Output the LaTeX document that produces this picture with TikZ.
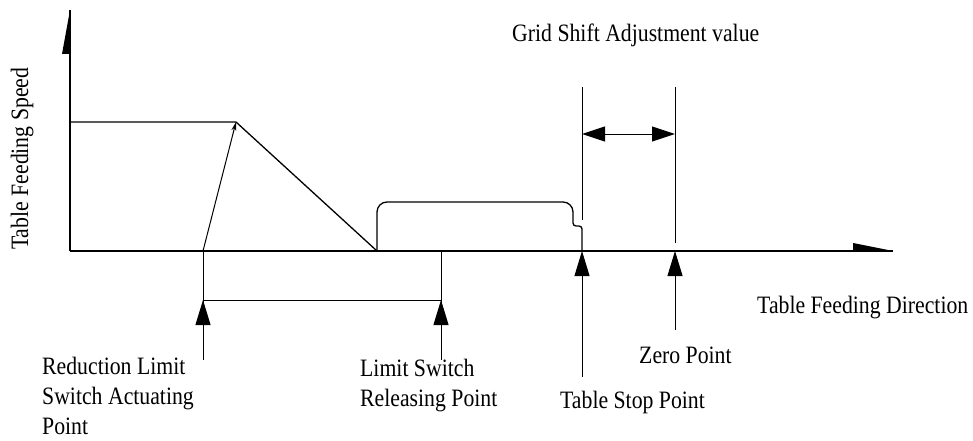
\documentclass[tikz,border=0pt]{standalone}
\usepackage{fontspec}
\setmainfont{Liberation Serif}[FakeStretch=0.87]
\usetikzlibrary{arrows.meta}
\tikzset{
  plot-line/.style={line width=1.3pt, line join=miter},
  mark-line/.style={line width=1pt},
  big-tip/.style={-{Triangle[length=25pt,width=15pt]}},
  gap-tip/.style={{Triangle[length=23pt,width=15pt]}-{Triangle[length=23pt,width=15pt]}},
  lbl/.style={font=\fontsize{25}{30}\selectfont, inner sep=0pt, align=left}
}

\begin{document}
\begin{tikzpicture}[x=1pt,y=1pt]
  \useasboundingbox (0,0) rectangle (973,440);
  % Axes
  \coordinate (O) at (70,189);
  \coordinate (YTop) at (70,430);
  \coordinate (XEnd) at (893,189);
  \draw[plot-line] (O) -- (YTop);
  \draw[plot-line] (O) -- (XEnd);
  \fill (YTop) -- (62,386) -- (70,386) -- cycle;
  \fill (XEnd) -- (853,197) -- (853,189) -- cycle;
  % Speed profile
  \coordinate (Hi) at (70,318);
  \coordinate (Peak) at (236,318);
  \coordinate (RedPt) at (203,189);
  \coordinate (Low) at (377,189);
  \coordinate (StopPt) at (582,189);
  \draw[plot-line] (Hi) -- (Peak) -- (Low);
  \draw[mark-line, -{Stealth[length=9pt,width=5pt]}] (RedPt) -- (Peak);
  \draw[plot-line] (Low) [rounded corners=10pt] -- (377,238) -- (573,238)
    [rounded corners=3pt] -- (573,214) -- (582,214) [sharp corners] -- (StopPt);
  % Limit switch markers
  \coordinate (RelPt) at (441,189);
  \coordinate (RedTip) at (203,140);
  \coordinate (RelTip) at (441,140);
  \coordinate (RedBot) at (203,80);
  \coordinate (RelBot) at (441,80);
  \draw[mark-line] (RedPt) -- (RedBot);
  \draw[mark-line] (RelPt) -- (RelBot);
  \draw[mark-line] (RedTip) -- (RelTip);
  \draw[mark-line, big-tip] (RedBot) -- (RedTip);
  \draw[mark-line, big-tip] (RelBot) -- (RelTip);
  % Stop and zero points
  \coordinate (ZeroPt) at (675,189);
  \coordinate (StopBot) at (582,63);
  \coordinate (ZeroBot) at (675,110);
  \draw[mark-line, big-tip] (StopBot) -- (StopPt);
  \draw[mark-line, big-tip] (ZeroBot) -- (ZeroPt);
  % Grid shift
  \coordinate (StopTop) at (582,353);
  \coordinate (StopMid) at (582,220);
  \coordinate (ZeroTop) at (675,353);
  \coordinate (ZeroLow) at (675,197);
  \coordinate (GsL) at (582,306);
  \coordinate (GsR) at (675,306);
  \draw[mark-line] (StopTop) -- (StopMid);
  \draw[mark-line] (ZeroTop) -- (ZeroLow);
  \draw[mark-line, gap-tip] (GsL) -- (GsR);
  % Labels
  \node[lbl, anchor=base west] (GsLbl) at (512,398) {Grid Shift Adjustment value};
  \node[lbl, anchor=base west, rotate=90] (YLbl) at (28,190) {Table Feeding Speed};
  \node[lbl, anchor=base west] (XLbl) at (757,127) {Table Feeding Direction};
  \node[lbl, anchor=base west] (ZeroLbl) at (639,77) {Zero Point};
  \node[lbl, anchor=base west] (StopLbl) at (560,32) {Table Stop Point};
  \node[lbl, anchor=base west] (RedLbl) at (42,6) {Reduction Limit\\Switch Actuating\\Point};
  \node[lbl, anchor=base west] (RelLbl) at (360,34) {Limit Switch\\Releasing Point};
\end{tikzpicture}
\end{document}
